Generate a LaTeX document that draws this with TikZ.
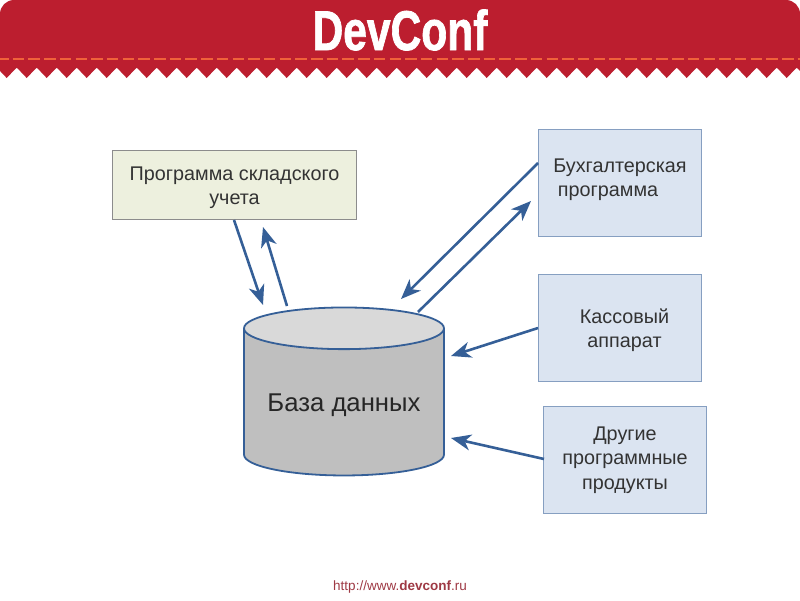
\documentclass[tikz,border=0pt]{standalone}
\usepackage{fontspec}
\setmainfont{Liberation Sans}
\newfontfamily\logofont[BoldFeatures={FakeBold=1.5}]{Liberation Sans}
\usetikzlibrary{shapes.geometric, arrows.meta, positioning}
\definecolor{bandred}{HTML}{BC1E2F}
\definecolor{dashorange}{HTML}{F0623A}
\definecolor{linkblue}{HTML}{355F97}
\definecolor{bluebox}{HTML}{DBE4F1}
\definecolor{greenbox}{HTML}{EDF0DE}
\begin{document}
\begin{tikzpicture}[
		x=1pt, y=-1pt,
		progbox/.style={rectangle, minimum width=163pt, minimum height=107pt, draw=linkblue!60, line width=0.9pt, fill=bluebox},
		stockbox/.style={rectangle, minimum width=244pt, minimum height=69pt, draw=black!45, line width=0.9pt, fill=greenbox},
		boxtext/.style={align=center, font=\fontsize{19.8}{24.5}\selectfont, text=black!80},
		arrow/.style={line width=2.6pt, draw=linkblue, -{Stealth[length=20pt, width=16pt, inset=6pt]}}
	]
	\useasboundingbox (0,0) rectangle (800,600);

	% --- BANNER ---
	\fill[bandred] (0,68) -- (0,14) arc[start angle=180, end angle=270, radius=14] -- (786,0) arc[start angle=270, end angle=360, radius=14] -- (800,68) -- cycle;
	\foreach \i in {-1,...,40}
		\fill[bandred] (-3.3+\i*20,67.5) -- (6.7+\i*20,78) -- (16.7+\i*20,67.5) -- cycle;
	\draw[dashorange, line width=2.2pt, dash pattern=on 11.5pt off 4.2pt] (-3,59) -- (800,59);
	\node (logo) at (400,30) {\fontsize{56}{56}\selectfont\logofont\bfseries\color{white}\scalebox{0.76}[1]{DevConf}};

	% --- BOXES ---
	\node (stock) [stockbox] at (234,185) {};
	\node (acct) [progbox] at (620,183) {};
	\node (cash) [progbox] at (620,328) {};
	\node (other) [progbox] at (625,459.5) {};
	\node (stocktext) [boxtext] at (234.5,187.5) {Программа складского\\учета};
	\node (accttext) [boxtext] at (620,179.5) {Бухгалтерская\\\hspace*{-24pt}программа};
	\node (cashtext) [boxtext] at (624.5,330) {Кассовый\\аппарат};
	\node (othertext) [boxtext] at (625,460) {Другие\\программные\\продукты};

	% --- DATABASE ---
	\node (db) [cylinder, shape border rotate=90, aspect=6.25, minimum width=200pt, minimum height=168pt, draw=linkblue, line width=1.8pt, cylinder uses custom fill, cylinder body fill=black!25, cylinder end fill=black!15] at (344,405) {};
	\node (dblabel) [font=\fontsize{25.7}{30}\selectfont, text=black!85] at (344,405) {База данных};

	% --- FREE ENDS ---
	\coordinate (stockout) at (234,220);
	\coordinate (stockin) at (263,227);
	\coordinate (dbin) at (263,305);
	\coordinate (dbout) at (287,306);
	\coordinate (acctout) at (538,163);
	\coordinate (acctin) at (531,201);
	\coordinate (dbacct) at (401,299);
	\coordinate (dbacctout) at (418,312);
	\coordinate (cashout) at (538,328);
	\coordinate (dbcash) at (451,356);
	\coordinate (otherout) at (544,459);
	\coordinate (dbother) at (451,438);

	% --- LINKS ---
	\draw [arrow] (stockout) -- (dbin);
	\draw [arrow] (dbout) -- (stockin);
	\draw [arrow] (acctout) -- (dbacct);
	\draw [arrow] (dbacctout) -- (acctin);
	\draw [arrow] (cashout) -- (dbcash);
	\draw [arrow] (otherout) -- (dbother);

	% --- FOOTER ---
	\node (url) at (400,586.5) {\fontsize{13.5}{16}\selectfont\color{bandred!75!black!85}http://www.\textbf{devconf}.ru};
\end{tikzpicture}
\end{document}
